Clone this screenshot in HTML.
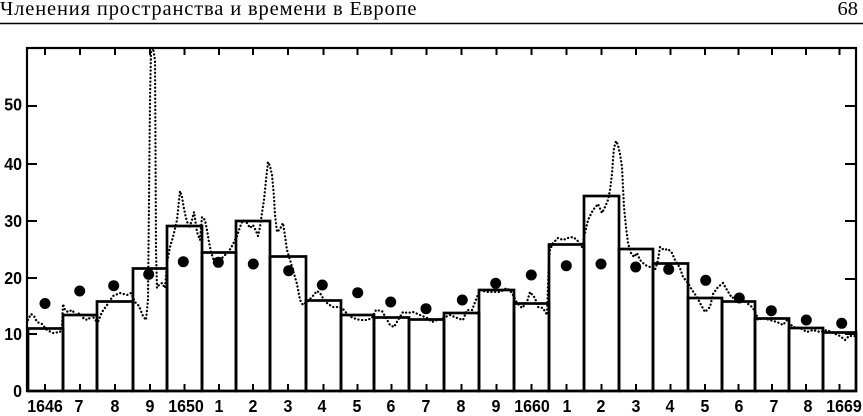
<!DOCTYPE html>
<html>
<head>
<meta charset="utf-8">
<style>
html,body{margin:0;padding:0;background:#fff;}
body{width:863px;height:416px;overflow:hidden;position:relative;}
svg{position:absolute;left:0;top:0;}
.lab{font-family:"Liberation Sans",Arial,sans-serif;font-weight:bold;font-size:16px;fill:#000;}
.ttl{font-family:"Liberation Serif","Noto Serif CJK SC",serif;font-size:20.5px;fill:#000;}
</style>
</head>
<body>
<svg width="863" height="416" viewBox="0 0 863 416" xmlns="http://www.w3.org/2000/svg">
  <!-- header -->
  <text class="ttl" x="0" y="15" letter-spacing="0.85">Членения пространства и времени в Европе</text>
  <text class="ttl" x="858" y="15" text-anchor="end">68</text>
  <line x1="0" y1="23.5" x2="863" y2="23.5" stroke="#000" stroke-width="1.6"/>

  <!-- frame -->
  <rect x="27" y="48" width="829" height="343" fill="none" stroke="#000" stroke-width="2.2"/>

  <!-- left ticks -->
  <g stroke="#000" stroke-width="2">
    <line x1="27" y1="106" x2="37" y2="106"/>
    <line x1="27" y1="164" x2="37" y2="164"/>
    <line x1="27" y1="221" x2="37" y2="221"/>
    <line x1="27" y1="278" x2="37" y2="278"/>
    <line x1="27" y1="334" x2="37" y2="334"/>
  </g>
  <!-- right ticks -->
  <g stroke="#000" stroke-width="2">
    <line x1="845" y1="106" x2="856" y2="106"/>
    <line x1="845" y1="164" x2="856" y2="164"/>
    <line x1="845" y1="221" x2="856" y2="221"/>
    <line x1="845" y1="279" x2="856" y2="279"/>
    <line x1="845" y1="334" x2="856" y2="334"/>
  </g>

  <!-- y labels -->
  <g class="lab" text-anchor="end">
    <text x="22" y="112" transform="translate(0,-1.7) scale(1,1.1) translate(0,-10)" >50</text>
    <text x="22" y="170" transform="translate(0,-17) scale(1,1.1)">40</text>
    <text x="22" y="227" transform="translate(0,-22.7) scale(1,1.1)">30</text>
    <text x="22" y="284" transform="translate(0,-28.4) scale(1,1.1)">20</text>
    <text x="22" y="340" transform="translate(0,-34) scale(1,1.1)">10</text>
    <text x="22" y="397" transform="translate(0,-39.7) scale(1,1.1)">0</text>
  </g>

  <!-- bars -->
  <g fill="none" stroke="#000" stroke-width="2.7">
    <rect x="28" y="328.5" width="35" height="62.5"/>
    <rect x="63" y="315" width="34" height="76"/>
    <rect x="97" y="301.5" width="36" height="89.5"/>
    <rect x="133" y="268.5" width="34" height="122.5"/>
    <rect x="167" y="226" width="35" height="165"/>
    <rect x="202" y="252.5" width="34" height="138.5"/>
    <rect x="236" y="221" width="34" height="170"/>
    <rect x="270" y="256.5" width="36" height="134.5"/>
    <rect x="306" y="300.5" width="35" height="90.5"/>
    <rect x="341" y="315" width="33" height="76"/>
    <rect x="374" y="317.5" width="35" height="73.5"/>
    <rect x="409" y="319.5" width="35" height="71.5"/>
    <rect x="444" y="313" width="35" height="78"/>
    <rect x="479" y="290" width="35" height="101"/>
    <rect x="514" y="303.5" width="35" height="87.5"/>
    <rect x="549" y="244.5" width="35" height="146.5"/>
    <rect x="584" y="196" width="35" height="195"/>
    <rect x="619" y="249" width="34" height="142"/>
    <rect x="653" y="263.5" width="35" height="127.5"/>
    <rect x="688" y="298" width="34" height="93"/>
    <rect x="722" y="301.5" width="33" height="89.5"/>
    <rect x="755" y="318.5" width="34" height="72.5"/>
    <rect x="789" y="328" width="34" height="63"/>
    <rect x="823" y="332.5" width="33" height="58.5"/>
  </g>

  <!-- top & bottom ticks at bar centres -->
  <g stroke="#000" stroke-width="2">
    <path d="M45 48v7M80 48v7M115 48v7M150 48v7M184.5 48v7M219 48v7M253 48v7M288 48v7M323.5 48v7M357.5 48v7M391.5 48v7M426.5 48v7M461.5 48v7M496.5 48v7M531.5 48v7M566.5 48v7M601.5 48v7M636 48v7M670.5 48v7M705 48v7M738.5 48v7M772 48v7M806 48v7M839.5 48v7"/>
    <path d="M45 391v-7M80 391v-7M115 391v-7M150 391v-7M184.5 391v-7M219 391v-7M253 391v-7M288 391v-7M323.5 391v-7M357.5 391v-7M391.5 391v-7M426.5 391v-7M461.5 391v-7M496.5 391v-7M531.5 391v-7M566.5 391v-7M601.5 391v-7M636 391v-7M670.5 391v-7M705 391v-7M738.5 391v-7M772 391v-7M806 391v-7M839.5 391v-7"/>
  </g>

  <!-- x labels -->
  <g class="lab" text-anchor="middle" transform="translate(0,-41.2) scale(1,1.1)">
    <text x="45" y="412">1646</text>
    <text x="79" y="412">7</text>
    <text x="115" y="412">8</text>
    <text x="150" y="412">9</text>
    <text x="186" y="412">1650</text>
    <text x="219" y="412">1</text>
    <text x="253" y="412">2</text>
    <text x="288" y="412">3</text>
    <text x="322" y="412">4</text>
    <text x="357" y="412">5</text>
    <text x="391" y="412">6</text>
    <text x="426" y="412">7</text>
    <text x="461" y="412">8</text>
    <text x="496" y="412">9</text>
    <text x="532" y="412">1660</text>
    <text x="567" y="412">1</text>
    <text x="601" y="412">2</text>
    <text x="636" y="412">3</text>
    <text x="670" y="412">4</text>
    <text x="705" y="412">5</text>
    <text x="739" y="412">6</text>
    <text x="774" y="412">7</text>
    <text x="808" y="412">8</text>
    <text x="844" y="412">1669</text>
  </g>

  <!-- dotted monthly series -->
  <polyline fill="none" stroke="#000" stroke-width="2.3" stroke-linecap="round" stroke-dasharray="0.1 3.6"
    points="28,320 31,314 34,316 37,322 42,324 47,330 53,333 60,332 62,326 63,304 65,310 68,312 72,310 76,315 80,313 84,319 88,320 92,315 95,320 98,322 102,312 107,305 113,296 120,293 127,295 131,293 135,302 139,306 143,316 146,320 148,300 149,200 150,100 151,52 153,48 155,60 155.5,150 156,250 157,288 159,285 162,283 165,288 167,263 170,247 173,237 177,220 180,191 182,197 184,209 186,218 189,228 192,220 194,212 197,232 200,240 202,217 205,220 207,230 209,242 211,252 214,261 217,266 220,260 224,256 228,252 231,248 234,242 237,236 240,227 243,220 247,223 250,228 253,225 256,231 258,236 260,227 262,213 264,200 266,180 268,162 270,166 272,175 274,197 275,215 277,232 280,229 283,223 285,236 287,250 290,260 293,270 297,284 300,300 303,305 307,302 312,297 317,291 320,293 324,300 328,304 333,307 340,307 344,310 348,315 353,318 360,320 367,320 372,318 376,310 382,311 386,318 390,325 394,327 398,320 403,312 408,313 413,312 420,315 427,318 432,322 437,320 443,318 450,315 457,318 463,320 467,310 472,310 477,297 480,290 487,292 493,292 500,292 507,288 512,293 517,303 522,308 527,302 530,292 535,298 538,307 543,308 547,315 549,258 550,250 553,243 558,238 563,240 568,238 573,237 577,240 582,247 585,233 588,220 593,210 598,204 602,213 605,207 608,200 610,190 612,174 613,160 614,148 616,141 618,145 620,154 622,167 623,187 624,207 626,227 628,243 631,253 634,257 637,253 640,260 645,265 650,267 655,270 658,260 660,247 664,250 668,249 672,253 675,260 680,268 683,277 688,283 692,290 697,297 700,303 705,312 710,307 713,294 718,287 723,283 727,290 732,298 737,296 740,297 747,303 752,307 756,313 758,320 763,318 770,320 777,322 783,325 787,320 793,327 800,328 807,332 813,330 820,332 827,330 833,333 840,336 845,340 849,336 855,336"/>

  <!-- annual dots -->
  <g fill="#000">
    <circle cx="45" cy="303.5" r="5.5"/>
    <circle cx="79.7" cy="291" r="5.5"/>
    <circle cx="113.7" cy="285.7" r="5.5"/>
    <circle cx="148.7" cy="274.3" r="5.5"/>
    <circle cx="183.3" cy="261.7" r="5.5"/>
    <circle cx="218.3" cy="262.3" r="5.5"/>
    <circle cx="253.3" cy="264" r="5.5"/>
    <circle cx="288.7" cy="270.7" r="5.5"/>
    <circle cx="322.3" cy="285" r="5.5"/>
    <circle cx="357.7" cy="292.7" r="5.5"/>
    <circle cx="390.7" cy="302" r="5.5"/>
    <circle cx="426" cy="308.7" r="5.5"/>
    <circle cx="462.3" cy="300" r="5.5"/>
    <circle cx="495.7" cy="283.3" r="5.5"/>
    <circle cx="531.3" cy="275" r="5.5"/>
    <circle cx="566.3" cy="265.7" r="5.5"/>
    <circle cx="601" cy="264" r="5.5"/>
    <circle cx="635.7" cy="267" r="5.5"/>
    <circle cx="668.7" cy="269.3" r="5.5"/>
    <circle cx="705.7" cy="280.3" r="5.5"/>
    <circle cx="739.3" cy="298" r="5.5"/>
    <circle cx="771.3" cy="310.7" r="5.5"/>
    <circle cx="806.3" cy="320" r="5.5"/>
    <circle cx="841.7" cy="323.3" r="5.5"/>
  </g>
</svg>
</body>
</html>
